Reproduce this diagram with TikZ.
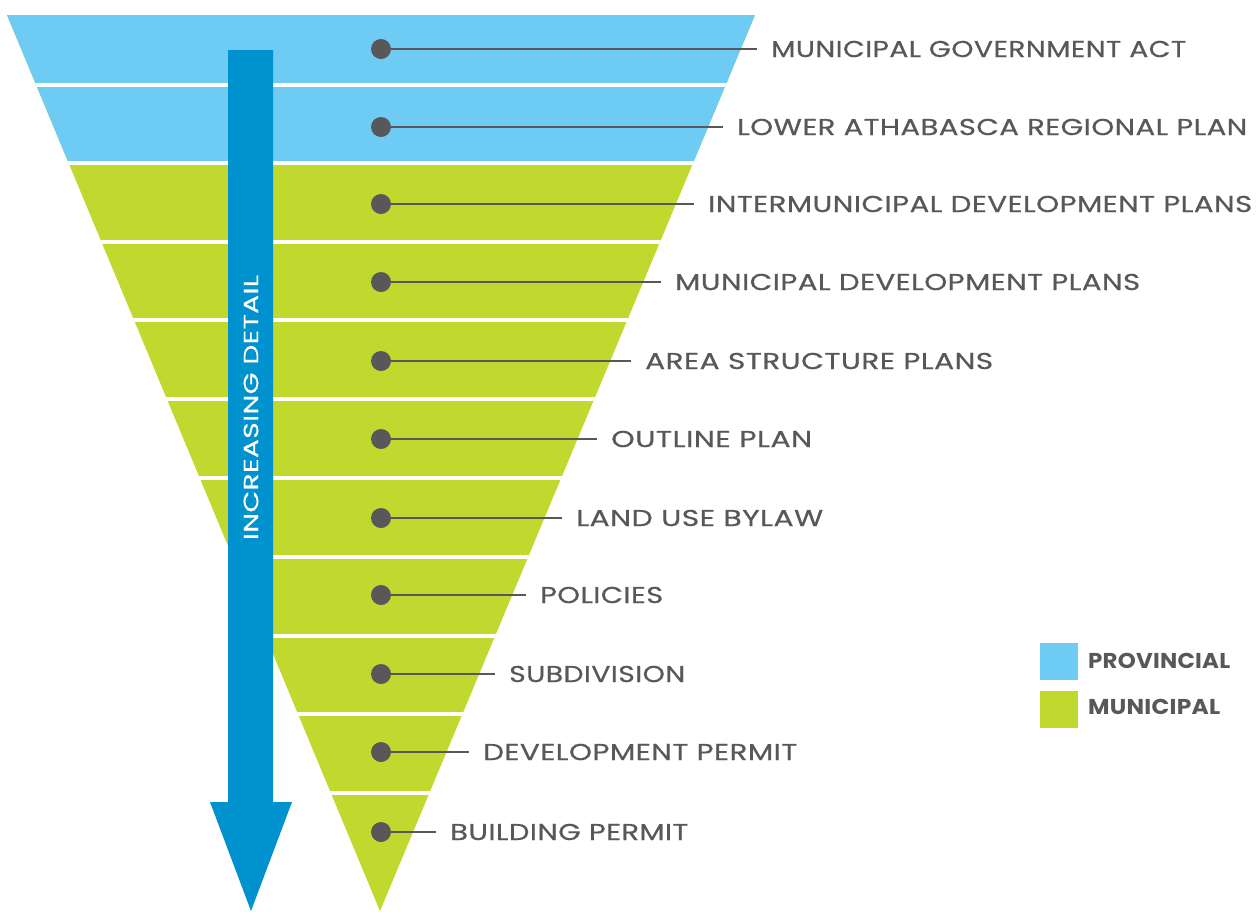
\documentclass[tikz,border=0pt]{standalone}
\usepackage{graphicx}
\usepackage{fontspec}
\setmainfont{Poppins}
\newfontfamily\labfont{Poppins}[LetterSpace=1.5,FakeBold=0.5]
\newfontfamily\legfont{Poppins}[LetterSpace=1]
\definecolor{provblue}{HTML}{6ECBF3}
\definecolor{munigreen}{HTML}{C1D82F}
\definecolor{arrowblue}{HTML}{0091CF}
\definecolor{txtgray}{HTML}{58585A}
\newcommand{\fitw}[2]{\resizebox{#1pt}{\height}{#2}}
\begin{document}
\begin{tikzpicture}[x=1pt,y=-1pt,
  dotnode/.style={circle,fill=txtgray,inner sep=0pt,minimum size=20pt},
  labnode/.style={anchor=west,inner sep=0pt,text=txtgray,font=\labfont\fontsize{23}{23}\selectfont},
  leader/.style={draw=txtgray,line width=2pt,shorten >=14pt},
  sep/.style={draw=white,line width=3.5pt},
  legtext/.style={anchor=west,inner sep=0pt,text=txtgray,font=\legfont\fontsize{21.5}{21.5}\selectfont\bfseries}]
\useasboundingbox (0,0) rectangle (1258,911);
% funnel
\begin{scope}
  \clip (7,15) -- (755,15) -- (380,911) -- cycle;
  \fill[munigreen] (0,15) rectangle (800,911);
  \fill[provblue] (0,15) rectangle (800,163);
  \foreach \y in {85,163,242,320,399,478,557,636,714,793}
    \draw[sep] (0,\y) -- (800,\y);
\end{scope}
% arrow
\fill[arrowblue] (228,50) -- (273,50) -- (273,802) -- (292,802) -- (251,911) -- (210,802) -- (228,802) -- cycle;
\node[rotate=90,text=white,font=\labfont\fontsize{20.5}{20.5}\selectfont,inner sep=0pt] (arrowtext) at (251,407.5) {\fitw{265}{INCREASING DETAIL}};
% levels
\foreach \i/\y/\x/\w/\t in {
  1/49/771/415/MUNICIPAL GOVERNMENT ACT,
  2/127/737/510/LOWER ATHABASCA REGIONAL PLAN,
  3/204/708/544/INTERMUNICIPAL DEVELOPMENT PLANS,
  4/282/675/465/MUNICIPAL DEVELOPMENT PLANS,
  5/361/645/348/AREA STRUCTURE PLANS,
  6/439/611/201/OUTLINE PLAN,
  7/518/576/247/LAND USE BYLAW,
  8/595/540/123/POLICIES,
  9/674/509/176/SUBDIVISION,
  10/752/483/314/DEVELOPMENT PERMIT,
  11/832/450/238/BUILDING PERMIT}{
  \node[dotnode] (d\i) at (381,\y) {};
  \node[labnode] (l\i) at (\x,\y) {\fitw{\w}{\t}};
  \draw[leader] (d\i.center) -- (l\i.west);
}
% legend
\node[fill=provblue,minimum width=38pt,minimum height=37pt,inner sep=0pt] (kp) at (1059,661.5) {};
\node[fill=munigreen,minimum width=38pt,minimum height=37pt,inner sep=0pt] (km) at (1059,709.5) {};
\node[legtext] (tp) at (1088,661) {\fitw{142}{PROVINCIAL}};
\node[legtext] (tm) at (1088,707) {\fitw{132}{MUNICIPAL}};
\end{tikzpicture}
\end{document}
